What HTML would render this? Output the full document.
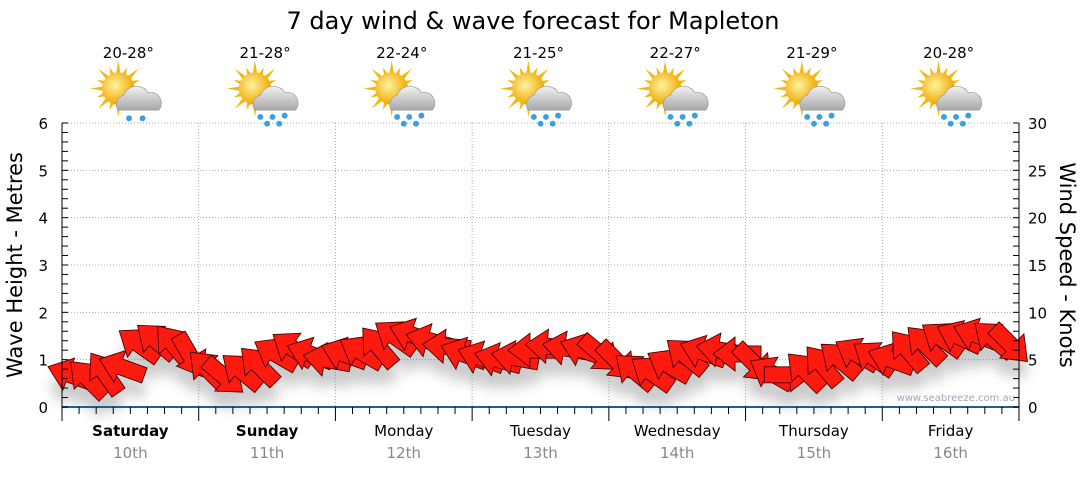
<!DOCTYPE html>
<html><head><meta charset="utf-8"><style>
body{margin:0;background:#fff;font-family:"DejaVu Sans","Liberation Sans",sans-serif;}
svg text{font-family:"DejaVu Sans","Liberation Sans",sans-serif;}
</style></head><body>
<svg id="c" width="1080" height="475">
<defs>
<filter id="sh" x="-50%" y="-50%" width="200%" height="200%"><feGaussianBlur stdDeviation="6"/></filter>
<radialGradient id="sun" cx="0.4" cy="0.4" r="0.6"><stop offset="0" stop-color="#fff3a0"/><stop offset="1" stop-color="#f0a800"/></radialGradient>
<linearGradient id="cl" x1="0" y1="0" x2="0" y2="1"><stop offset="0" stop-color="#f2f2f2"/><stop offset="1" stop-color="#a8a8a8"/></linearGradient>
</defs>
<text x="533" y="29" font-size="24" text-anchor="middle" fill="#000">7 day wind &amp; wave forecast for Mapleton</text>
<g id="grid"></g><g id="icons"></g><g id="shadow" filter="url(#sh)" opacity="0.3"></g><g id="arrows"></g><g id="axes"></g>
</svg>
<script>
const days=["Saturday","Sunday","Monday","Tuesday","Wednesday","Thursday","Friday"];
const dates=["10th","11th","12th","13th","14th","15th","16th"];
const temps=["20-28°","21-28°","22-24°","21-25°","22-27°","21-29°","20-28°"];
const rainy=[false,true,true,true,true,true,true];
const waveTicks=[0,1,2,3,4,5,6];
const windTicks=[0,5,10,15,20,25,30];
// wind speed (knots), 3-hourly
const windSpeed=[3.4,3.0,3.6,4.2,6.6,7.0,6.6,5.4,4.0,3.2,3.8,4.4,5.6,6.2,5.6,5.0,
5.6,5.8,6.4,7.4,7.6,7.0,6.4,5.6,5.2,5.0,5.2,6.0,6.4,6.2,6.0,5.6,
4.8,3.8,3.6,4.4,5.4,5.8,6.0,5.6,4.6,3.6,3.4,3.8,4.4,5.0,5.6,5.2,
5.0,6.0,6.6,7.2,7.4,7.6,7.2,6.6];
// direction arrow points to (screen degrees, 0=right, 90=down)
const windDir=[200,225,235,200,215,220,230,60,225,40,220,225,210,215,200,190,
200,210,230,215,200,195,185,200,200,195,190,180,185,190,200,40,
45,220,215,210,220,200,190,180,45,210,0,225,230,220,210,215,
200,230,225,215,205,200,220,45];
const L=62,R=1019,T=123,B=407,dayW=(R-L)/7;
const yW=v=>B-(v/6)*(B-T), yK=v=>B-(v/30)*(B-T);
const xI=i=>L+(i+0.5)*(R-L)/windSpeed.length;
const NS="http://www.w3.org/2000/svg";
function mk(tag,attrs,parent,txt){const e=document.createElementNS(NS,tag);for(const k in attrs)e.setAttribute(k,attrs[k]);if(txt!==undefined)e.textContent=txt;document.getElementById(parent).appendChild(e);return e;}
waveTicks.forEach(v=>{if(v>0){const g=mk('line',{x1:L,x2:R,y1:yW(v),y2:yW(v),stroke:'#aaa','stroke-dasharray':'1,2'},'grid');

}});
for(let d=1;d<7;d++){const g=mk('line',{x1:L+d*dayW,x2:L+d*dayW,y1:T,y2:B,stroke:'#aaa','stroke-dasharray':'1,2'},'grid');

}
mk('line',{x1:L,x2:L,y1:T,y2:B,stroke:'#000'},'axes');
mk('line',{x1:R,x2:R,y1:T,y2:B,stroke:'#000'},'axes');
mk('line',{x1:L,x2:R,y1:B,y2:B,stroke:'#1f5f8f','stroke-width':2},'axes');
for(let v=0;v<=6.001;v+=0.2){const y=yW(v);mk('line',{x1:L,x2:L+6,y1:y,y2:y,stroke:'#000'},'axes');}
for(let v=0;v<=30;v+=1){const y=yK(v);mk('line',{x1:R-6,x2:R,y1:y,y2:y,stroke:'#000'},'axes');}
waveTicks.forEach(v=>{const t=mk('text',{x:48,y:yW(v)+6,'font-size':15,'text-anchor':'end'},'axes',v);

});
windTicks.forEach(v=>{const t=mk('text',{x:1028,y:yK(v)+6,'font-size':15},'axes',v);

});
let t1=mk('text',{x:22,y:265,'font-size':21,'text-anchor':'middle',transform:'rotate(-90 22 265)'},'axes','Wave Height - Metres');


let t2=mk('text',{x:1060,y:265,'font-size':21,'text-anchor':'middle',transform:'rotate(90 1060 265)'},'axes','Wind Speed - Knots');


let wm=mk('text',{x:1015,y:401,'font-size':10,'text-anchor':'end',fill:'#9ab'},'axes','www.seabreeze.com.au');


for(let d=0;d<=7;d++){for(let h=0;h<8;h++){const x=L+d*dayW+h*dayW/8;if(x>R+1)break;mk('line',{x1:x,x2:x,y1:B,y2:B+(h==0?14:7),stroke:'#000'},'axes');}}
days.forEach((n,d)=>{const cx=L+(d+0.5)*dayW;
const a=mk('text',{x:cx,y:436,'font-size':15,'text-anchor':'middle','font-weight':d<2?'bold':'normal'},'axes',n);


const b=mk('text',{x:cx,y:458,'font-size':15,'text-anchor':'middle',fill:'#888'},'axes',dates[d]);


const c=mk('text',{x:cx-2,y:58,'font-size':15,'text-anchor':'middle'},'icons',temps[d]);


const g=mk('g',{transform:`translate(${cx-4},94) scale(1.35)`},'icons');


let rays='';for(let k=0;k<16;k++){const an=k*Math.PI/8;const r1=10,r2=k%2?17:21;rays+=`<polygon points="${(Math.cos(an-0.18)*r1).toFixed(1)},${(Math.sin(an-0.18)*r1).toFixed(1)} ${(Math.cos(an)*r2).toFixed(1)},${(Math.sin(an)*r2).toFixed(1)} ${(Math.cos(an+0.18)*r1).toFixed(1)},${(Math.sin(an+0.18)*r1).toFixed(1)}" fill="#f6b800"/>`;}
g.innerHTML=`<g transform="translate(-6,-4)">${rays}<circle r="12" fill="url(#sun)"/></g>
<path d="M-6,12 a7,7 0 0 1 4,-11 a10,10 0 0 1 18,-2 a8,8 0 0 1 8,13 z" fill="url(#cl)" stroke="#999" stroke-width="0.5"/>
${rainy[d]?'<circle cx="-2" cy="17" r="2.2" fill="#3aa0e0"/><circle cx="7" cy="17" r="2.2" fill="#3aa0e0"/><circle cx="16" cy="16" r="2.2" fill="#3aa0e0"/><circle cx="3" cy="22" r="2.2" fill="#3aa0e0"/><circle cx="12" cy="22" r="2.2" fill="#3aa0e0"/>':'<circle cx="2" cy="18" r="2.2" fill="#3aa0e0"/><circle cx="12" cy="18" r="2.2" fill="#3aa0e0"/>'}`;
});
const shape="M-24,-8 L2,-8 L2,-17 L24,0 L2,17 L2,8 L-24,8 Z";
windSpeed.forEach((v,i)=>{const x=xI(i),y=yK(v);
const s=mk('path',{d:shape,fill:'#555',transform:`translate(${x},${y+16}) rotate(${windDir[i]})`},'shadow');


const a=mk('path',{d:shape,fill:'#ff1a0f',stroke:'#4a0000','stroke-width':0.9,transform:`translate(${x},${y}) rotate(${windDir[i]})`},'arrows');


});
</script>
</body></html>
